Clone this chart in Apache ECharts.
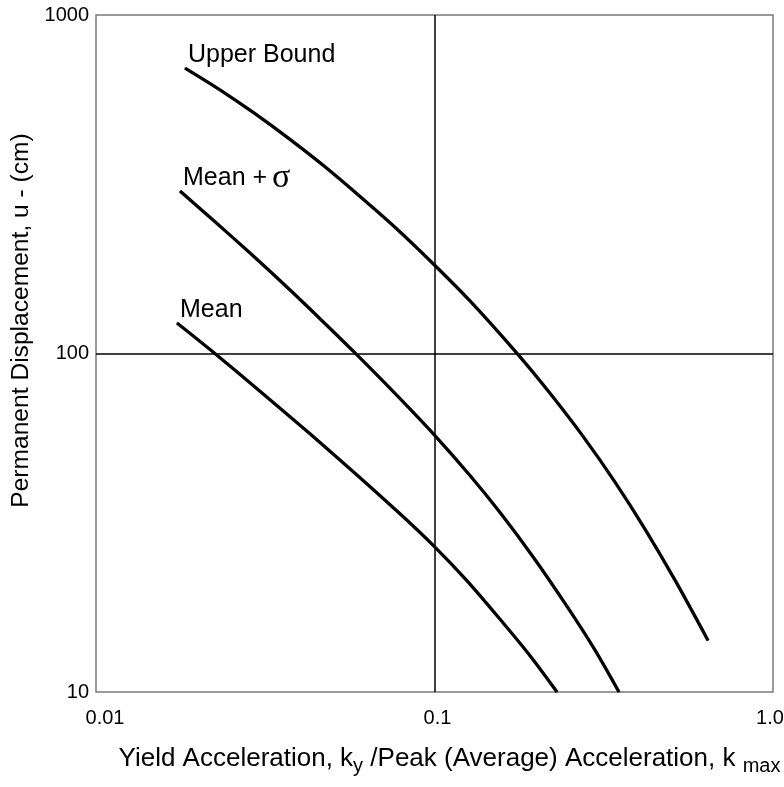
<!DOCTYPE html>
<html>
<head>
<meta charset="utf-8">
<script src="https://cdn.jsdelivr.net/npm/echarts@6/dist/echarts.min.js"></script>
<style>
  html, body { margin: 0; padding: 0; background: #fff; }
  #chart { width: 784px; height: 787px; }
</style>
</head>
<body>
<div id="chart"></div>
<script>
// Axis ticks (log scales)
const xTickValues = [0.01, 0.1, 1];
const xTickLabels = ['0.01', '0.1', '1.0'];
const yTickValues = [10, 100, 1000];
const yTickLabels = ['10', '100', '1000'];

// Upper bound curve: k_y/k_max vs permanent displacement u (cm)
const upperK = [0.01832, 0.02324, 0.02949, 0.03742, 0.04748, 0.06025, 0.07644, 0.1003,
                0.1273, 0.1753, 0.2194, 0.2747, 0.3414, 0.4186, 0.5135, 0.6428];
const upperU = [697, 601, 511, 429, 356, 291, 236, 182,
                143, 100.1, 76.3, 56.9, 41.7, 30.3, 21.4, 14.2];

// Mean + sigma curve
const sigmaK = [0.01771, 0.02247, 0.02851, 0.03617, 0.04589, 0.05822, 0.07644, 0.1003,
                0.1273, 0.1562, 0.1954, 0.2463, 0.298, 0.3508];
const sigmaU = [302, 245, 198, 159, 126.7, 100.4, 76.2, 57.2,
                43.6, 33.9, 25.1, 17.9, 13.3, 10];

// Mean curve
const meanK = [0.01735, 0.02217, 0.03051, 0.04287, 0.05822, 0.07908, 0.1003, 0.1248, 0.1562, 0.1915, 0.2301];
const meanU = [123, 101, 77.4, 57.9, 44.3, 33.6, 26.8, 21.3, 16.4, 12.8, 10];

const curveLabels = ['Upper Bound', '{t|Mean +}{s|σ}', 'Mean'];

const FONT = 'Liberation Sans, Arial, sans-serif';

function tickIndex(values, v) {
  return values.findIndex(t => Math.abs(t - v) / t < 1e-6);
}

function curve(k, u, labelText) {
  const data = k.map((v, i) => [v, u[i]]);
  data[0] = {
    value: data[0],
    label: {
      show: true,
      formatter: labelText,
      position: 'top',
      align: 'left',
      verticalAlign: 'bottom',
      distance: -2,
      offset: [3, 0],
      color: '#000',
      fontSize: 25,
      lineHeight: 28,
      fontFamily: FONT,
      rich: {
        t: { fontSize: 25, lineHeight: 28, fontFamily: FONT, color: '#000' },
        s: { fontSize: 34, lineHeight: 28, fontFamily: 'Liberation Serif, serif', color: '#000', padding: [0, 0, 0, 5] }
      }
    }
  };
  return {
    type: 'line',
    data: data,
    smooth: 0.3,
    symbol: 'circle',
    symbolSize: 1,
    showSymbol: true,
    itemStyle: { color: '#000' },
    lineStyle: { color: '#000', width: 3.3 },
    label: { show: false },
    silent: true,
    animation: false,
    z: 3
  };
}

const chart = echarts.init(document.getElementById('chart'), null, { renderer: 'canvas' });

const tickText = { color: '#000', fontSize: 20, fontFamily: FONT };

chart.setOption({
  backgroundColor: '#fff',
  animation: false,
  grid: {
    left: 96, top: 15, right: 11, bottom: 95,
    show: true,
    borderColor: '#7a7a7a',
    borderWidth: 1.5,
    backgroundColor: 'transparent',
    containLabel: false,
    outerBoundsMode: 'none'
  },
  xAxis: {
    type: 'log',
    logBase: 10,
    min: 0.01,
    max: 1,
    axisLine: { show: false },
    axisTick: { show: false },
    splitLine: { show: true, showMinLine: false, showMaxLine: false, lineStyle: { color: '#000', width: 1.5 } },
    axisLabel: {
      formatter: function (v) {
        const i = tickIndex(xTickValues, v);
        if (i < 0) return '';
        const style = ['first', 'mid', 'last'][i];
        return '{' + style + '|' + xTickLabels[i] + '}';
      },
      margin: 16,
      rich: {
        first: Object.assign({ padding: [0, 0, 0, 18] }, tickText),
        mid: Object.assign({ padding: [0, 0, 0, 6] }, tickText),
        last: Object.assign({ padding: [0, 6, 0, 0] }, tickText)
      }
    },
    name: 'Yield Acceleration, k{sub|y} /Peak (Average) Acceleration, k {sub|max}',
    nameLocation: 'middle',
    nameGap: 50,
    nameTextStyle: {
      color: '#000', fontSize: 26, fontFamily: FONT, padding: [0, 0, 0, 30],
      rich: {
        sub: { fontSize: 20, fontFamily: FONT, color: '#000', padding: [14, 0, 0, 0] }
      }
    }
  },
  yAxis: {
    type: 'log',
    logBase: 10,
    min: 10,
    max: 1000,
    axisLine: { show: false },
    axisTick: { show: false },
    splitLine: { show: true, showMinLine: false, showMaxLine: false, lineStyle: { color: '#000', width: 1.5 } },
    axisLabel: {
      formatter: function (v) {
        const i = tickIndex(yTickValues, v);
        return i >= 0 ? yTickLabels[i] : '';
      },
      color: '#000', fontSize: 20, fontFamily: FONT, margin: 7
    },
    name: 'Permanent Displacement, u - (cm)',
    nameLocation: 'middle',
    nameRotate: 90,
    nameGap: 52,
    nameTextStyle: { color: '#000', fontSize: 24.6, fontFamily: FONT, padding: [0, 0, 0, 66] }
  },
  series: [
    curve(upperK, upperU, curveLabels[0]),
    curve(sigmaK, sigmaU, curveLabels[1]),
    curve(meanK, meanU, curveLabels[2])
  ]
});
</script>
</body>
</html>
